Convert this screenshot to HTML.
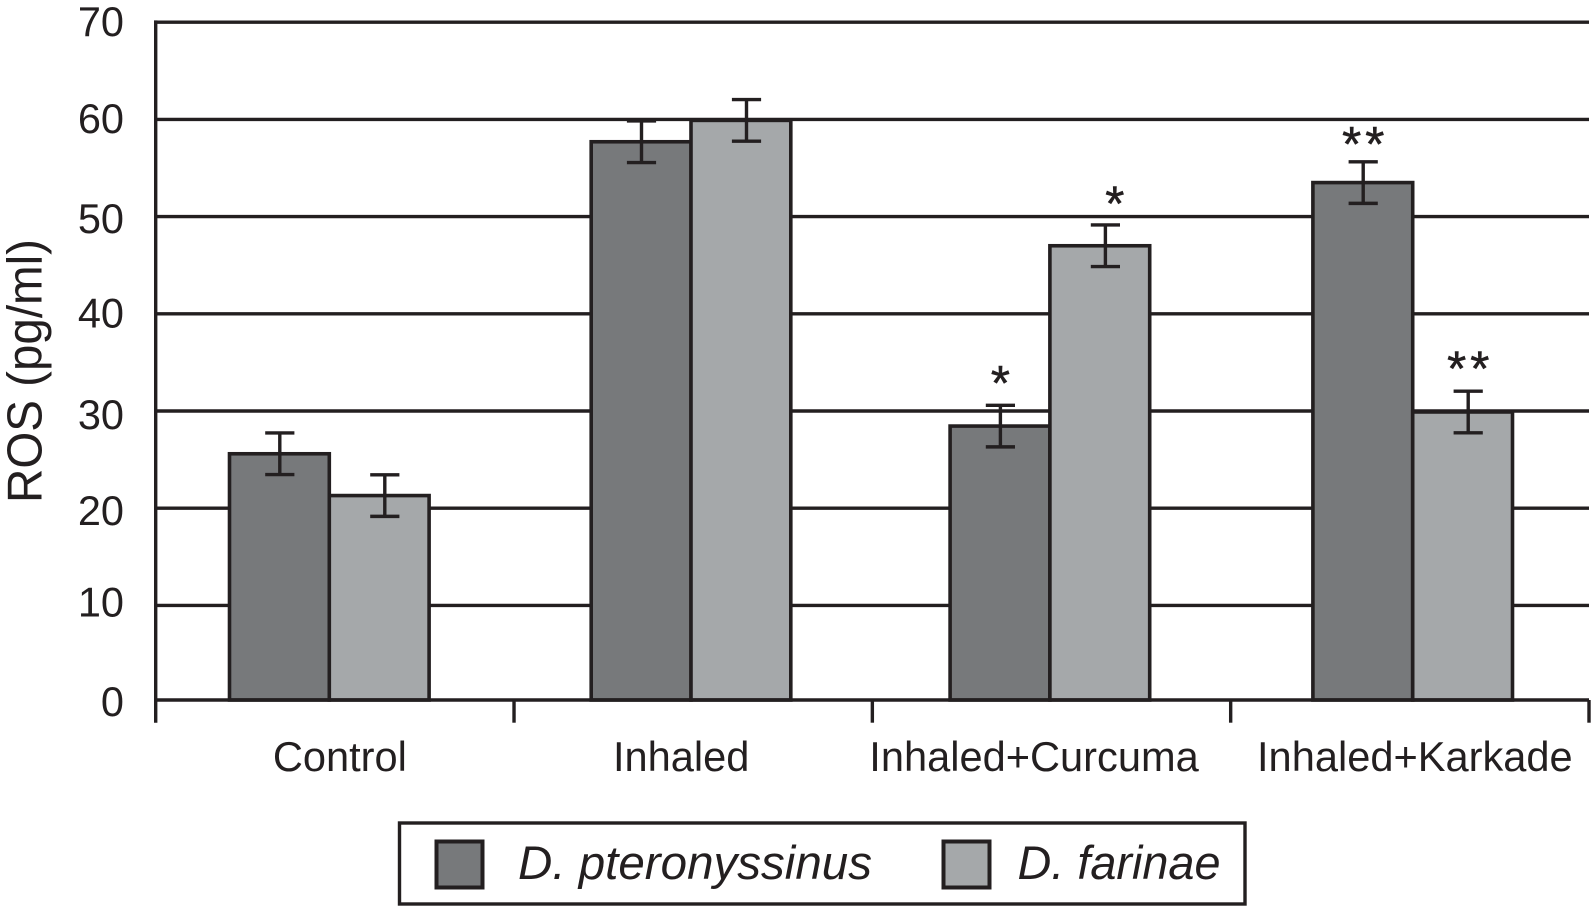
<!DOCTYPE html>
<html lang="en">
<head>
<meta charset="utf-8">
<title>ROS (pg/ml) bar chart</title>
<style>
  html, body { margin: 0; padding: 0; background: #fff; }
  body { width: 1591px; height: 907px; overflow: hidden; }
  svg { display: block; font-family: "Liberation Sans", Arial, sans-serif; }
  text { fill: #231f20; }
</style>
</head>
<body>
<svg id="chart" xmlns="http://www.w3.org/2000/svg" width="1591" height="907" viewBox="0 0 1591 907">
  <rect x="0" y="0" width="1591" height="907" fill="#ffffff"/>
  <text transform="translate(41.5 503) rotate(-90)" font-size="49.5" textLength="264" lengthAdjust="spacingAndGlyphs">ROS (pg/ml)</text>
  <g id="grid"></g>
  <g id="y-labels"></g>
  <g id="bars"></g>
  <g id="axes"></g>
  <g id="errors"></g>
  <g id="marks"></g>
  <g id="x-labels"></g>
  <g>
    <rect x="399.5" y="823" width="845.5" height="81" fill="#fff" stroke="#231f20" stroke-width="3.4"/>
    <g>
      <rect x="436.5" y="841.5" width="46" height="46" fill="#77797b" stroke="#231f20" stroke-width="4"/>
      <text x="518" y="879" font-size="47" font-style="italic" textLength="354" lengthAdjust="spacingAndGlyphs">D. pteronyssinus</text>
    </g>
    <g>
      <rect x="943.5" y="841.5" width="46" height="46" fill="#a5a8aa" stroke="#231f20" stroke-width="4"/>
      <text x="1017.5" y="879" font-size="47" font-style="italic" textLength="203" lengthAdjust="spacingAndGlyphs">D. farinae</text>
    </g>
  </g>
</svg>
<script>
// ---- Data ----
const categories = ["Control", "Inhaled", "Inhaled+Curcuma", "Inhaled+Karkade"];
const seriesNames = ["D. pteronyssinus", "D. farinae"];
const pteronyssinusValues = [25.6, 57.7, 28.45, 53.5];
const farinaeValues = [21.3, 59.9, 47.0, 29.9];
const pteronyssinusErrors = [2.14, 2.14, 2.14, 2.14];
const farinaeErrors = [2.14, 2.14, 2.14, 2.14];
const pteronyssinusMarks = ["", "", "*", "**"];
const farinaeMarks = ["", "", "*", "**"];
const yTicks = [0, 10, 20, 30, 40, 50, 60, 70];

// ---- Layout (not data) ----
const INK = "#231f20";
const plot = { left: 155.7, right: 1589, baseline: 700, axisTop: 20.4, tickBottom: 722.7, yZero: 702.6, unitPx: 9.72 };
const barWidth = 99.8;
const groupStart = 329.5, groupStep = 360.9;
const groupNudge = [-0.2, 0.6, -1.4, 0.5];
const labelNudge = [5, -12, -17.5, 5];
const yLabelNudge = [13.4, 11.3, 16.8, 18, 13.5, 16.4, 13.6, 13.8];
const seriesFill = ["#77797b", "#a5a8aa"];
const errorShift = [0.4, 5.6];
const markRaise = [[0, 0, 41.3, 36.8], [0, 0, 40.5, 41.5]];
const markExtraX = [[0, 0, 0, 2], [0, 0, 9.4, 2]];

const valuesBySeries = [pteronyssinusValues, farinaeValues];
const errorsBySeries = [pteronyssinusErrors, farinaeErrors];
const marksBySeries = [pteronyssinusMarks, farinaeMarks];

// ---- Scales ----
function yScale(v) { return plot.yZero - v * plot.unitPx; }
function groupCentre(i) { return groupStart + groupStep * i + groupNudge[i]; }
function barLeft(i, s) { return groupCentre(i) - barWidth + s * barWidth; }
function xTick(i) { return plot.left + (plot.right - plot.left) * i / categories.length; }

const NS = "http://www.w3.org/2000/svg";
function make(tag, parentId, attrs, txt) {
  const el = document.createElementNS(NS, tag);
  for (const k in attrs) el.setAttribute(k, attrs[k]);
  if (txt !== undefined) el.textContent = txt;
  document.getElementById(parentId).appendChild(el);
  return el;
}
function slug(s) { return s.toLowerCase().replace(/[^a-z0-9]+/g, "-"); }

// Gridlines and y labels
yTicks.forEach(function (t, idx) {
  const y = yScale(t);
  if (t !== 0) {
    const g = make("line", "grid", { x1: plot.left, x2: plot.right, y1: y, y2: y, stroke: INK, "stroke-width": 3.4 });
    
    
  }
  const lab = make("text", "y-labels", { x: 124, y: y + yLabelNudge[idx], "text-anchor": "end", "font-size": 41.5 }, String(t));
  
  
});

// Bars
categories.forEach(function (c, i) {
  valuesBySeries.forEach(function (vals, s) {
    const top = yScale(vals[i]);
    const r = make("rect", "bars", { x: barLeft(i, s), y: top, width: barWidth, height: plot.baseline - top, fill: seriesFill[s], stroke: INK, "stroke-width": 3.6 });
    
    
  });
});

// Axes
const yAxis = make("line", "axes", { x1: plot.left, x2: plot.left, y1: plot.axisTop, y2: plot.tickBottom, stroke: INK, "stroke-width": 3.4 });


const xAxis = make("line", "axes", { x1: plot.left, x2: plot.right, y1: plot.baseline, y2: plot.baseline, stroke: INK, "stroke-width": 3.4 });


for (let i = 1; i <= categories.length; i++) {
  const tk = make("line", "axes", { x1: xTick(i), x2: xTick(i), y1: plot.baseline, y2: plot.tickBottom, stroke: INK, "stroke-width": 3.4 });
  
  
}

// Error bars and significance marks
categories.forEach(function (c, i) {
  valuesBySeries.forEach(function (vals, s) {
    const cx = barLeft(i, s) + barWidth / 2 + errorShift[s];
    const hi = yScale(vals[i] + errorsBySeries[s][i]);
    const lo = yScale(vals[i] - errorsBySeries[s][i]);
    const d = "M" + cx + " " + hi + "V" + lo + "M" + (cx - 14.6) + " " + hi + "H" + (cx + 14.6) + "M" + (cx - 14.6) + " " + lo + "H" + (cx + 14.6);
    const e = make("path", "errors", { d: d, fill: "none", stroke: INK, "stroke-width": 3.4 });
    
    
    const m = marksBySeries[s][i];
    if (m) {
      const t = make("text", "marks", { x: cx + markExtraX[s][i], y: hi - markRaise[s][i] + 36, "text-anchor": "middle", "font-size": 49, stroke: INK, "stroke-width": 0.6, "letter-spacing": m.length > 1 ? 4 : 0 }, m);
      
      
    }
  });
});

// Category labels
categories.forEach(function (c, i) {
  const cx = (xTick(i) + xTick(i + 1)) / 2 + labelNudge[i];
  const t = make("text", "x-labels", { x: cx, y: 771, "text-anchor": "middle", "font-size": 41.6 }, c);
  
  
});
</script>
</body>
</html>
